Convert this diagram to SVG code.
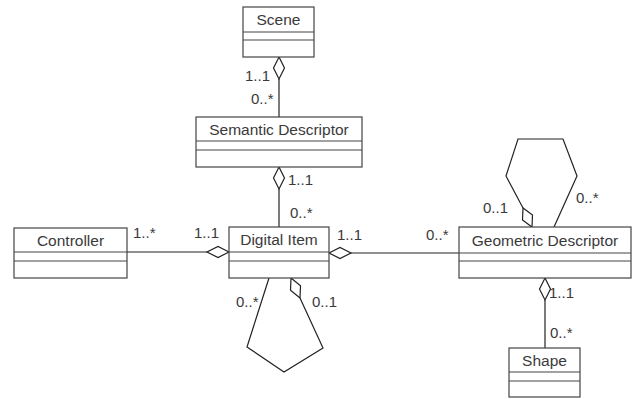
<svg xmlns="http://www.w3.org/2000/svg" width="642" height="399" viewBox="0 0 642 399">
<style>
.box{fill:#fff;stroke:#444;stroke-width:1.2}
.div{stroke:#444;stroke-width:1.2}
.t{font-family:"Liberation Sans",Arial,sans-serif;font-size:15.5px;fill:#3a3a3a;text-anchor:middle}
.l{font-family:"Liberation Sans",Arial,sans-serif;font-size:15px;fill:#3a3a3a}
.c{fill:none;stroke:#222;stroke-width:1.2}
.d{fill:#fff;stroke:#222;stroke-width:1.2}
</style>
<rect width="642" height="399" fill="#fff"/>
<g id="connectors">
  <line class="c" x1="279" y1="79" x2="279" y2="117"/>
  <polygon class="d" points="279,57 284.5,68 279,79 273.5,68"/>
  <line class="c" x1="279" y1="189" x2="279" y2="227"/>
  <polygon class="d" points="279,167 284.5,178 279,189 273.5,178"/>
  <line class="c" x1="127" y1="252" x2="207" y2="252"/>
  <polygon class="d" points="229,252 218,246.5 207,252 218,257.5"/>
  <line class="c" x1="351" y1="253" x2="459" y2="253"/>
  <polygon class="d" points="329,253 340,247.5 351,253 340,258.5"/>
  <line class="c" x1="545" y1="300" x2="545" y2="348"/>
  <polygon class="d" points="545,278 550.5,289 545,300 539.5,289"/>
  <polyline class="c" points="269,278 247,347 284,372 323,348 300,298"/>
  <polygon class="d" points="291,278 300.5,285.7 300,298 290.5,290.3"/>
  <polyline class="c" points="554,227 577,176 563,139 518,139 506,176 523,208"/>
  <polygon class="d" points="532,227 532.5,215.1 523,208 522.5,219.9"/>
  <text class="l" x="245" y="81">1..1</text>
  <text class="l" x="251" y="104">0..*</text>
  <text class="l" x="288" y="185">1..1</text>
  <text class="l" x="290" y="218">0..*</text>
  <text class="l" x="133" y="238">1..*</text>
  <text class="l" x="194" y="238">1..1</text>
  <text class="l" x="337" y="240">1..1</text>
  <text class="l" x="426" y="240">0..*</text>
  <text class="l" x="483" y="213">0..1</text>
  <text class="l" x="576" y="203">0..*</text>
  <text class="l" x="236" y="307">0..*</text>
  <text class="l" x="312" y="307">0..1</text>
  <text class="l" x="549" y="298">1..1</text>
  <text class="l" x="550" y="338">0..*</text>
</g>
<g id="scene">
  <rect class="box" x="243" y="7" width="71" height="50"/>
  <line class="div" x1="243" y1="32" x2="314" y2="32"/>
  <line class="div" x1="243" y1="40" x2="314" y2="40"/>
  <text class="t" x="278.5" y="25">Scene</text>
</g>
<g id="semantic-descriptor">
  <rect class="box" x="196" y="117" width="166" height="50"/>
  <line class="div" x1="196" y1="141" x2="362" y2="141"/>
  <line class="div" x1="196" y1="150" x2="362" y2="150"/>
  <text class="t" x="279" y="135">Semantic Descriptor</text>
</g>
<g id="controller">
  <rect class="box" x="14" y="228" width="113" height="50"/>
  <line class="div" x1="14" y1="252" x2="127" y2="252"/>
  <line class="div" x1="14" y1="261" x2="127" y2="261"/>
  <text class="t" x="70.5" y="246">Controller</text>
</g>
<g id="digital-item">
  <rect class="box" x="229" y="227" width="100" height="51"/>
  <line class="div" x1="229" y1="252" x2="329" y2="252"/>
  <line class="div" x1="229" y1="261" x2="329" y2="261"/>
  <text class="t" x="279" y="245">Digital Item</text>
</g>
<g id="geometric-descriptor">
  <rect class="box" x="459" y="227" width="172" height="51"/>
  <line class="div" x1="459" y1="253" x2="631" y2="253"/>
  <line class="div" x1="459" y1="261" x2="631" y2="261"/>
  <text class="t" x="545" y="246">Geometric Descriptor</text>
</g>
<g id="shape">
  <rect class="box" x="509" y="348" width="71" height="49"/>
  <line class="div" x1="509" y1="372" x2="580" y2="372"/>
  <line class="div" x1="509" y1="381" x2="580" y2="381"/>
  <text class="t" x="544.5" y="366">Shape</text>
</g>
</svg>
